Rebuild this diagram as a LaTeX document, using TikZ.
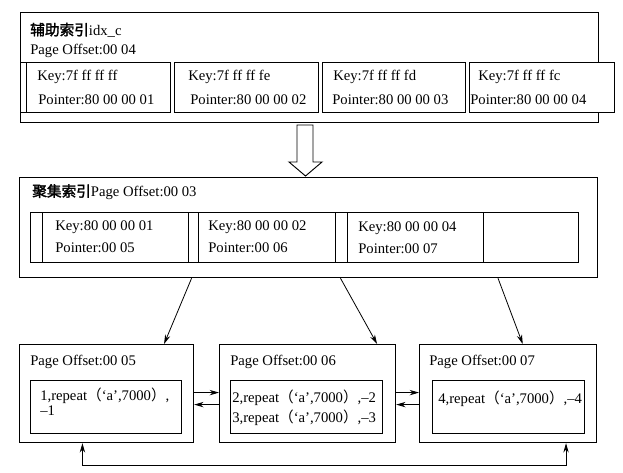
\documentclass[tikz,border=0pt]{standalone}
\usepackage{fontspec}
\setmainfont{Liberation Serif}
\newfontfamily\cjk[AutoFakeBold=2]{Noto Sans CJK SC}
\usetikzlibrary{arrows.meta,calc}

\tikzset{
  frame/.style={draw, line width=0.9pt, fill=white, anchor=north west, inner sep=0pt},
  sz/.style 2 args={minimum width=#1*0.75pt, minimum height=#2*0.75pt},
  lbl/.style={anchor=west, inner sep=0pt, font=\fontsize{11}{13}\selectfont},
  link/.style={-{Stealth[length=7pt,width=4pt]}, line width=0.6pt},
}

\begin{document}
\begin{tikzpicture}[x=0.75pt, y=-0.75pt]
  \useasboundingbox (0,0) rectangle (623,473);

  % secondary index page
  \node[frame, sz={578}{110}] (sec) at (20,12) {};
  \node[frame, sz={6}{50}]   (s0) at (20,62) {};
  \node[frame, sz={144}{50}] (s1) at (26,62) {};
  \node[frame, sz={144}{50}] (s2) at (174,62) {};
  \node[frame, sz={143}{50}] (s3) at (322,62) {};
  \node[frame, sz={145}{50}] (s4) at (469,62) {};
  \node[lbl] (secname) at (30,30) {{\cjk\bfseries 辅助索引}idx\_c};
  \node[lbl] (secoff) at (30,51) {Page Offset:00 04};
  \node[lbl] (sk1) at (37,77) {Key:7f ff ff ff};
  \node[lbl] (sp1) at (38,100) {Pointer:80 00 00 01};
  \node[lbl] (sk2) at (188,77) {Key:7f ff ff fe};
  \node[lbl] (sp2) at (190,100) {Pointer:80 00 00 02};
  \node[lbl] (sk3) at (333,77) {Key:7f ff ff fd};
  \node[lbl] (sp3) at (332,100) {Pointer:80 00 00 03};
  \node[lbl] (sk4) at (478,77) {Key:7f ff ff fc};
  \node[lbl] (sp4) at (470,100) {Pointer:80 00 00 04};

  % hollow arrow down
  \draw[line width=0.7pt, fill=white] (297,125) -- (313,125) -- (313,162) -- (322,162)
    -- (305.5,176) -- (289,162) -- (297,162) -- cycle;

  % clustered index page
  \node[frame, sz={578}{100}] (clu) at (19,177) {};
  \node[frame, sz={12}{50}]  (k0) at (30,212) {};
  \node[frame, sz={146}{50}] (k1) at (42,212) {};
  \node[frame, sz={10}{50}]  (k2) at (188,212) {};
  \node[frame, sz={137}{50}] (k3) at (198,212) {};
  \node[frame, sz={12}{50}]  (k4) at (335,212) {};
  \node[frame, sz={136}{50}] (k5) at (347,212) {};
  \node[frame, sz={95}{50}]  (k6) at (483,212) {};
  \node[lbl] (cluname) at (32,192) {{\cjk\bfseries 聚集索引}Page Offset:00 03};
  \node[lbl] (ck1) at (55,227) {Key:80 00 00 01};
  \node[lbl] (cp1) at (55,248) {Pointer:00 05};
  \node[lbl] (ck2) at (208,227) {Key:80 00 00 02};
  \node[lbl] (cp2) at (208,248) {Pointer:00 06};
  \node[lbl] (ck3) at (358,228) {Key:80 00 00 04};
  \node[lbl] (cp3) at (358,249) {Pointer:00 07};

  % leaf pages
  \node[frame, sz={174}{98}] (p5) at (19,344) {};
  \node[frame, sz={176}{98}] (p6) at (219,344) {};
  \node[frame, sz={177}{98}] (p7) at (419,344) {};
  \node[frame, sz={151}{53}] (r5) at (30,380) {};
  \node[frame, sz={152}{53}] (r6) at (230,380) {};
  \node[frame, sz={152}{53}] (r7) at (432,380) {};
  \node[lbl] (o5) at (30,362) {Page Offset:00 05};
  \node[lbl] (o6) at (230,362) {Page Offset:00 06};
  \node[lbl] (o7) at (429,362) {Page Offset:00 07};
  \node[lbl] (row1) at (40,396) {1,repeat{\cjk （}‘a’,7000{\cjk ）},};
  \node[lbl] (row1b) at (40,411) {–1};
  \node[lbl] (row2) at (232,398) {2,repeat{\cjk （}‘a’,7000{\cjk ）},–2};
  \node[lbl] (row3) at (232,418) {3,repeat{\cjk （}‘a’,7000{\cjk ）},–3};
  \node[lbl] (row4) at (438,399) {4,repeat{\cjk （}‘a’,7000{\cjk ）},–4};

  % pointers down to the leaves
  \draw[link] ($(clu.south west)!0.298!(clu.south east)$) -- ($(p5.north west)!0.828!(p5.north east)$);
  \draw[link] ($(clu.south west)!0.555!(clu.south east)$) -- ($(p6.north west)!0.892!(p6.north east)$);
  \draw[link] ($(clu.south west)!0.827!(clu.south east)$) -- ($(p7.north west)!0.582!(p7.north east)$);

  % sibling links
  \draw[link] ([yshift=0.75pt]p5.east) -- ([yshift=0.75pt]p6.west);
  \draw[link] ([yshift=-8.25pt]p6.west) -- ([yshift=-8.25pt]p5.east);
  \draw[link] ([yshift=0.75pt]p6.east) -- ([yshift=0.75pt]p7.west);
  \draw[link] ([yshift=-8.25pt]p7.west) -- ([yshift=-8.25pt]p6.east);
  \draw[link, {Stealth[length=7pt,width=4pt]}-{Stealth[length=7pt,width=4pt]}]
    ($(p5.south west)!0.362!(p5.south east)$) -- ++(0,22)
    -| ($(p7.south west)!0.825!(p7.south east)$);
\end{tikzpicture}
\end{document}
